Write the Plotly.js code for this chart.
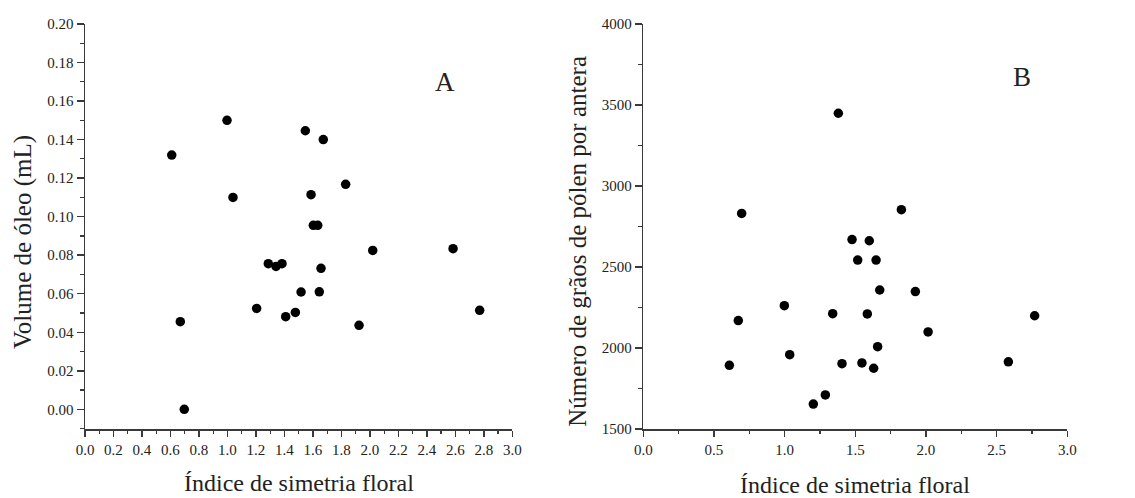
<!DOCTYPE html>
<html>
<head>
<meta charset="utf-8">
<script src="https://cdn.plot.ly/plotly-3.0.1.min.js"></script>
<style>html,body{margin:0;padding:0;background:#fff;}#chart{width:1135px;height:498px;}</style>
</head>
<body>
<div id="chart"></div>
<script>
// Panel A: floral symmetry index vs oil volume (mL)
const symmetryA = [0.609, 0.669, 0.697, 0.997, 1.039, 1.205, 1.287, 1.341, 1.383, 1.409, 1.477, 1.517, 1.547, 1.587, 1.603, 1.634, 1.645, 1.657, 1.673, 1.830, 1.924, 2.020, 2.584, 2.771];
const oilVolume = [0.132, 0.0455, 0.000, 0.150, 0.110, 0.0524, 0.0756, 0.0742, 0.0756, 0.0481, 0.0503, 0.0609, 0.1446, 0.1114, 0.0955, 0.0955, 0.061, 0.0732, 0.140, 0.1168, 0.0436, 0.0825, 0.0834, 0.0514];

// Panel B: floral symmetry index vs pollen grains per anther
const symmetryB = [0.609, 0.672, 0.696, 0.998, 1.036, 1.203, 1.288, 1.340, 1.380, 1.406, 1.477, 1.517, 1.547, 1.585, 1.599, 1.630, 1.647, 1.658, 1.673, 1.826, 1.925, 2.015, 2.583, 2.769];
const pollenGrains = [1893, 2169, 2831, 2261, 1959, 1654, 1710, 2212, 3449, 1903, 2669, 2543, 1908, 2210, 2662, 1875, 2543, 2008, 2358, 2854, 2348, 2099, 1915, 2199];

const xTitle = "Índice de simetria floral";
const yTitleA = "Volume de óleo (mL)";
const yTitleB = "Número de grãos de pólen por antera";
const panelLabels = ["A", "B"];

const W = 1135, H = 498;
const px = v => v / W;
const py = v => 1 - v / H;

const serif = "Liberation Serif";
const axisColor = "#3a3a3a";

function tf() { return {family: serif, size: 15, color: "#222"}; }

function axisBase(extra) {
  const a = {
    showline: true, linecolor: axisColor, linewidth: 1.5,
    showgrid: false, zeroline: false, mirror: false,
    ticks: "outside", ticklen: 7, tickwidth: 1.5, tickcolor: axisColor,
    tickfont: tf(), tickangle: 0, fixedrange: true
  };
  for (const k in extra) a[k] = extra[k];
  return a;
}

const traces = [
  {x: symmetryA, y: oilVolume, type: "scatter", mode: "markers", marker: {color: "#000", size: 9.5}, xaxis: "x", yaxis: "y"},
  {x: symmetryB, y: pollenGrains, type: "scatter", mode: "markers", marker: {color: "#000", size: 9.5}, xaxis: "x2", yaxis: "y2"}
];

const layout = {
  width: W, height: H,
  margin: {l: 0, r: 0, t: 0, b: 0},
  paper_bgcolor: "#fff", plot_bgcolor: "#fff",
  showlegend: false,
  font: {family: serif, size: 15, color: "#222"},
  xaxis: axisBase({
    domain: [px(85), px(512.3)], range: [0, 3], anchor: "y",
    dtick: 0.2, tick0: 0, tickformat: ".1f", ticklen: 6,
    minor: {dtick: 0.1, ticks: "outside", ticklen: 3.5, tickwidth: 1.2, tickcolor: axisColor}
  }),
  yaxis: axisBase({
    domain: [py(429), py(24)], range: [-0.0102, 0.2], anchor: "x",
    dtick: 0.02, tick0: 0, tickformat: ".2f",
    minor: {dtick: 0.01, ticks: "outside", ticklen: 4, tickwidth: 1.2, tickcolor: axisColor}
  }),
  xaxis2: axisBase({
    domain: [px(643.3), px(1067.3)], range: [0, 3], anchor: "y2",
    dtick: 0.5, tick0: 0, tickformat: ".1f", ticklen: 6,
    minor: {dtick: 0.25, ticks: "outside", ticklen: 3.5, tickwidth: 1.2, tickcolor: axisColor}
  }),
  yaxis2: axisBase({
    domain: [py(429), py(24)], range: [1500, 4000], anchor: "x2",
    dtick: 500, tick0: 0, tickformat: "d",
    minor: {dtick: 250, ticks: "outside", ticklen: 4, tickwidth: 1.2, tickcolor: axisColor}
  }),
  annotations: [
    {text: xTitle, xref: "paper", yref: "paper", x: px(298.5), y: py(483), xanchor: "center", yanchor: "middle", showarrow: false, font: {family: serif, size: 24, color: "#222"}},
    {text: xTitle, xref: "paper", yref: "paper", x: px(855), y: py(485), xanchor: "center", yanchor: "middle", showarrow: false, font: {family: serif, size: 24, color: "#222"}},
    {text: yTitleA, xref: "paper", yref: "paper", x: px(23), y: py(242), xanchor: "center", yanchor: "middle", textangle: -90, showarrow: false, font: {family: serif, size: 25, color: "#222"}},
    {text: yTitleB, xref: "paper", yref: "paper", x: px(578), y: py(241.7), xanchor: "center", yanchor: "middle", textangle: -90, showarrow: false, font: {family: serif, size: 25, color: "#222"}},
    {text: panelLabels[0], xref: "paper", yref: "paper", x: px(445), y: py(82), xanchor: "center", yanchor: "middle", showarrow: false, font: {family: serif, size: 27, color: "#222"}},
    {text: panelLabels[1], xref: "paper", yref: "paper", x: px(1021.7), y: py(77), xanchor: "center", yanchor: "middle", showarrow: false, font: {family: serif, size: 27, color: "#222"}}
  ]
};

Plotly.newPlot("chart", traces, layout, {displayModeBar: false, staticPlot: true});
</script>
</body>
</html>
